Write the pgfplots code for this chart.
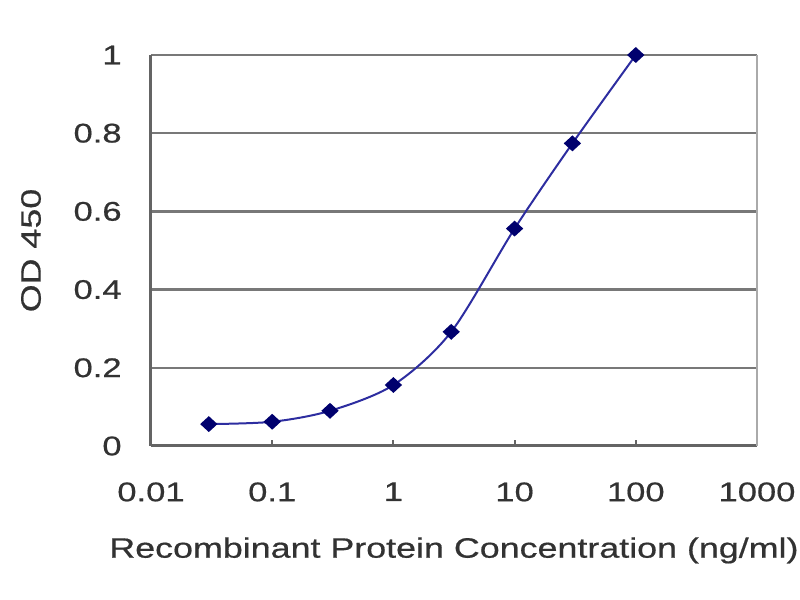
\documentclass[border=0pt]{standalone}
\usepackage{pgfplots}
\pgfplotsset{compat=1.18}
\usepackage{fontspec}
\setmainfont{Liberation Sans}[FakeStretch=1.28, FakeBold=0.6]
\definecolor{navy}{RGB}{0,0,110}
\definecolor{linec}{RGB}{45,45,160}
\definecolor{txt}{RGB}{50,50,50}
\definecolor{gridc}{RGB}{120,120,120}
\definecolor{axc}{RGB}{100,100,100}
\definecolor{rightc}{RGB}{170,170,170}
\begin{document}
\begin{tikzpicture}
\useasboundingbox (0pt,0pt) rectangle (400pt,300pt);
\begin{axis}[
  at={(75.5pt,77pt)}, anchor=south west,
  scale only axis, width=303pt, height=195.5pt,
  xmode=log, log basis x=10,
  xmin=0.01, xmax=1000, ymin=0, ymax=1,
  clip=false,
  /pgf/number format/assume math mode=true,
  axis lines*=left,
  axis line style={draw=axc, line width=1.5pt},
  xtick={0.01,0.1,1,10,100,1000},
  xticklabels={0.01,0.1,1,10,100,1000},
  ytick={0,0.2,0.4,0.6,0.8,1},
  yticklabels={0,0.2,0.4,0.6,0.8,1},
  xminorticks=false, yminorticks=false,
  tick align=inside,
  major tick length=3pt,
  xtick style={draw=axc, line width=1pt},
  ytick style={draw=none},
  ymajorgrids,
  y grid style={draw=gridc, line width=1.2pt},
  tick label style={font=\fontsize{13.5}{16}\selectfont, text=txt, inner sep=0pt},
  xticklabel shift=18pt,
  yticklabel shift=14.5pt,
  label style={font=\fontsize{14}{16}\selectfont, text=txt, inner sep=0pt},
  xlabel={Recombinant Protein Concentration (ng/ml)},
  xlabel style={at={(axis description cs:0.5,-0.2327)}, anchor=north},
  ylabel={OD 450},
  ylabel style={at={(axis description cs:-0.198,0.5)}, anchor=center},
]
\draw[draw=rightc, line width=1.1pt] (rel axis cs:1,0) -- (rel axis cs:1,1);
\addplot[smooth, color=linec, line width=1pt, mark=diamond*, mark size=3.3pt,
  mark options={fill=navy, draw=navy, xscale=1.45, solid}]
  coordinates {(0.03,0.056)(0.1,0.062)(0.3,0.09)(1,0.156)(3,0.292)(10,0.556)(30,0.774)(100,1.0)};
\end{axis}
\end{tikzpicture}
\end{document}
